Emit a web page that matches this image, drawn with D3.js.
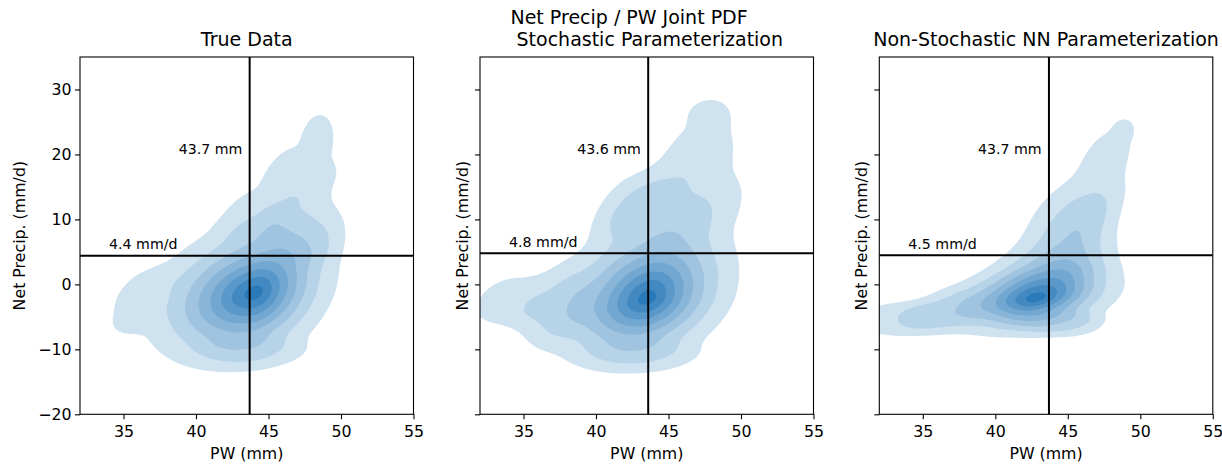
<!DOCTYPE html>
<html>
<head>
<meta charset="utf-8">
<script src="https://cdn.jsdelivr.net/npm/d3@7"></script>
<style>
  body { margin: 0; background: #fff; }
  svg { display: block; }
  text { font-family: "DejaVu Sans", sans-serif; fill: #000; }
</style>
</head>
<body>
<svg id="chart" width="1222" height="464"></svg>
<script>
// ---- data ---------------------------------------------------------------
const pwTicks = [35, 40, 45, 50, 55];
const precipTicks = [-20, -10, 0, 10, 20, 30];
const pwDomain = [32, 55];
const precipDomain = [-20, 35];

const panelTitles = [
  ["True Data"],
  ["Net Precip / PW Joint PDF", " Stochastic Parameterization"],
  ["Non-Stochastic NN Parameterization"]
];
const meanPW = [43.7, 43.6, 43.7];          // mm
const meanPrecip = [4.4, 4.8, 4.5];         // mm/d

// Joint PDF shape of each run, as split kernel components:
// [PW centre, precip centre, PW spread left, PW spread right,
//  precip spread below, precip spread above, correlation, peak height, shape exponent]
const trueDensity = [
  [44.0,  -1.4, 2.95, 2.2, 4.5, 4.6, 0.30, 0.90, 1.5],
  [35.3,  -5.2, 1.2,  1.5, 2.2, 3.0, 0.30, 0.09, 3],
  [36.0,  -0.5, 1.5,  1.8, 2.5, 2.5, 0.50, 0.07, 3],
  [43.5, -10.5, 2.8,  3.5, 2.0, 2.0, 0.00, 0.09, 3],
  [44.0,  10.5, 2.0,  2.0, 3.5, 5.0, 0.30, 0.10, 3],
  [47.6,   9.0, 2.6,  2.3, 5.0, 4.5, 0.00, 0.12, 4],
  [47.5,  17.5, 2.5,  2.4, 4.0, 4.5, 0.00, 0.13, 4],
  [48.5,  23.8, 1.2,  1.1, 3.0, 3.0, 0.00, 0.12, 4]
];
const stochDensity = [
  [43.5,  -2.2, 2.65, 2.4, 4.2, 5.2, 0.30, 0.90, 1.5],
  [33.5,  -3.5, 2.5,  2.0, 3.0, 5.0, 0.20, 0.12, 3],
  [37.0,  -4.0, 2.0,  2.0, 4.5, 5.0, 0.30, 0.13, 3],
  [43.5, -11.0, 3.5,  3.0, 2.0, 2.0, 0.00, 0.09, 3],
  [42.0,  12.0, 1.8,  2.5, 4.0, 4.5, 0.50, 0.13, 3],
  [46.5,  13.0, 3.5,  3.2, 5.0, 5.0, 0.30, 0.15, 3],
  [47.5,  21.5, 2.8,  2.2, 4.0, 5.0, 0.30, 0.13, 3],
  [47.8,  26.6, 1.3,  1.1, 2.2, 1.9, 0.00, 0.10, 3]
];
const nnDensity = [
  [42.7,  -2.4, 2.45, 2.4, 2.3, 2.3, 0.35, 0.75, 1.5],
  [44.5,   2.5, 3.2,  2.4, 3.5, 6.0, 0.55, 0.33, 2],
  [46.5,  13.0, 3.3,  2.2, 5.0, 5.0, 0.50, 0.15, 3],
  [48.1,  21.0, 2.0,  1.3, 3.5, 3.5, 0.40, 0.13, 3],
  [48.9,  24.0, 0.7,  0.6, 1.5, 1.5, 0.00, 0.07, 3],
  [33.0,  -5.3, 2.5,  2.5, 2.5, 2.2, 0.10, 0.16, 3],
  [36.5,  -4.5, 2.2,  2.2, 2.5, 3.0, 0.30, 0.14, 3],
  [45.0,  -6.0, 3.0,  2.0, 1.8, 1.5, 0.00, 0.14, 3]
];
const densities = [trueDensity, stochDensity, nnDensity];

// ---- layout ---------------------------------------------------------------
const axLeft = [80, 480, 879.3];
const axWidth = 333.5;
const axTop = 57;
const axBottom = 414.3;
const nLevels = 8;
const bandColor = d3.interpolateRgb("#cfe2f0", "#2a7ab9");

const svg = d3.select("#chart");

// density grid
const gx0 = pwDomain[0], gdx = 0.1, nx = Math.round((pwDomain[1] - pwDomain[0]) / gdx) + 1;
const gy0 = precipDomain[0], gdy = 0.2, ny = Math.round((precipDomain[1] - precipDomain[0]) / gdy) + 1;

function densityGrid(comps) {
  const values = new Float64Array(nx * ny);
  for (let j = 0; j < ny; j++) {
    const y = gy0 + j * gdy;
    for (let i = 0; i < nx; i++) {
      const x = gx0 + i * gdx;
      let v = 0;
      for (const [mx, my, sxl, sxr, syd, syu, r, h, b] of comps) {
        const dx = x - mx, dy = y - my;
        const u = dx / (dx < 0 ? sxl : sxr), w = dy / (dy < 0 ? syd : syu);
        const q = Math.max(0, (u * u - 2 * r * u * w + w * w) / (1 - r * r));
        v += h * Math.exp(-0.5 * Math.pow(q, b / 2));
      }
      values[j * nx + i] = v;
    }
  }
  return values;
}

densities.forEach((comps, p) => {
  const x = d3.scaleLinear().domain(pwDomain).range([axLeft[p], axLeft[p] + axWidth]);
  const y = d3.scaleLinear().domain(precipDomain).range([axBottom, axTop]);
  const g = svg.append("g");

  const clipId = "clip" + p;
  g.append("clipPath").attr("id", clipId).append("rect")
    .attr("x", axLeft[p]).attr("y", axTop).attr("width", axWidth).attr("height", axBottom - axTop);

  // filled density bands (lowest level left unshaded)
  const values = densityGrid(comps);
  const vmax = d3.max(values);
  const thresholds = d3.range(1, nLevels + 1).map(k => vmax * k / (nLevels + 0.5));
  const bands = d3.contours().size([nx, ny]).thresholds(thresholds)(values);
  const proj = d3.geoTransform({
    point(px, py) { this.stream.point(x(gx0 + px * gdx), y(gy0 + py * gdy)); }
  });
  const path = d3.geoPath(proj);
  g.append("g").attr("clip-path", `url(#${clipId})`)
    .selectAll("path").data(bands).join("path")
    .attr("d", path)
    .attr("fill", (d, i) => bandColor(i / (nLevels - 1)))
    .attr("stroke", "none");

  // mean lines
  const lines = g.append("g").attr("clip-path", `url(#${clipId})`);
  lines.append("line")
    .attr("x1", x(meanPW[p])).attr("x2", x(meanPW[p]))
    .attr("y1", axTop).attr("y2", axBottom)
    .attr("stroke", "#000").attr("stroke-width", 2);
  lines.append("line")
    .attr("x1", axLeft[p]).attr("x2", axLeft[p] + axWidth)
    .attr("y1", y(meanPrecip[p])).attr("y2", y(meanPrecip[p]))
    .attr("stroke", "#000").attr("stroke-width", 2);

  g.append("text")
    .attr("x", x(meanPW[p] - 0.5)).attr("y", y(20))
    .attr("text-anchor", "end").attr("font-size", "14.2px").attr("fill", "#1a1a1a")
    .text(meanPW[p].toFixed(1) + " mm");
  g.append("text")
    .attr("x", x(34)).attr("y", y(meanPrecip[p] + 1))
    .attr("font-size", "14.2px").attr("fill", "#1a1a1a")
    .text(meanPrecip[p].toFixed(1) + " mm/d");

  // axes
  const xAxis = g.append("g").attr("transform", `translate(0,${axBottom})`)
    .call(d3.axisBottom(x).tickValues(pwTicks).tickSize(5).tickPadding(6.8));
  const yAxis = g.append("g").attr("transform", `translate(${axLeft[p]},0)`)
    .call(d3.axisLeft(y).tickValues(precipTicks).tickSize(5).tickPadding(3.5)
      .tickFormat(p === 0 ? (d => d < 0 ? "\u2212" + Math.abs(d) : String(d)) : () => ""));
  [xAxis, yAxis].forEach(a => {
    a.select(".domain").remove();
    a.selectAll(".tick line").attr("stroke", "#000").attr("stroke-width", 1.1);
    a.selectAll(".tick text").attr("font-size", "15.8px").attr("font-family", "DejaVu Sans").attr("fill", "#1a1a1a");
  });

  // frame
  g.append("rect")
    .attr("x", axLeft[p]).attr("y", axTop).attr("width", axWidth).attr("height", axBottom - axTop)
    .attr("fill", "none").attr("stroke", "#000").attr("stroke-width", 1.1);

  // labels
  const cx = axLeft[p] + axWidth / 2;
  g.append("text").attr("x", cx).attr("y", 459.3)
    .attr("text-anchor", "middle").attr("font-size", "15.8px").attr("fill", "#1a1a1a").text("PW (mm)");
  const ylx = p === 0 ? axLeft[p] - 55.5 : axLeft[p] - 12.3;
  g.append("text")
    .attr("transform", `translate(${ylx},${(axTop + axBottom) / 2}) rotate(-90)`)
    .attr("text-anchor", "middle").attr("font-size", "15.8px").attr("fill", "#1a1a1a")
    .text("Net Precip. (mm/d)");

  // title
  const tl = panelTitles[p];
  if (tl.length === 1) {
    g.append("text").attr("x", cx).attr("y", 46.3)
      .attr("text-anchor", "middle").attr("font-size", "19px").attr("fill", "#1a1a1a").text(tl[0]);
  } else {
    const t = g.append("text").attr("font-size", "19px").attr("fill", "#1a1a1a")
      .style("white-space", "pre");
    t.append("tspan").attr("y", 23.5).text(tl[0]);
    t.append("tspan").attr("y", 46.3).text(tl[1]);
    const w = d3.max(t.selectAll("tspan").nodes(), n => n.getComputedTextLength());
    t.selectAll("tspan").attr("x", cx - w / 2);
  }
});
</script>
</body>
</html>
